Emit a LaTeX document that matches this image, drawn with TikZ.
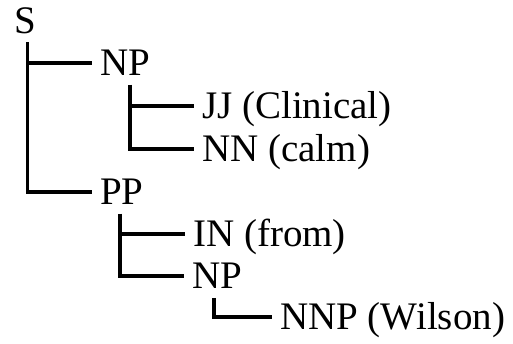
\documentclass[tikz,border=0pt]{standalone}
\usepackage{fontspec}
\setmainfont{Liberation Serif}
\usepackage{tikz}

\begin{document}
\begin{tikzpicture}
		[x=1pt,y=-1pt,
		%Styles
		tag/.style={anchor=west,inner xsep=8pt,inner ysep=9pt,
			text height=25.5pt,text depth=0pt,font=\fontsize{39}{41}\selectfont},
		branch/.style={line width=3.2pt,line join=miter}
		]
		
		\useasboundingbox (0,0) rectangle (513,344);
		
		%The labels
		\node[tag] (s)   at (6, 20.5) {S};
		\node[tag] (np1) at (92, 63)  {NP};
		\node[tag] (jj)  at (194, 106) {JJ (Clinical)};
		\node[tag] (nn)  at (194, 149) {NN (calm)};
		\node[tag] (pp)  at (92, 192) {PP};
		\node[tag] (in)  at (185, 234) {IN (from)};
		\node[tag] (np2) at (184, 276) {NP};
		\node[tag] (nnp) at (272, 317) {NNP (Wilson)};
		
		%The branches
		\draw[branch] ([xshift=21.5pt]s.south west) |- (np1.west);
		\draw[branch] ([xshift=21.5pt]s.south west) |- (pp.west);
		
		\draw[branch] ([xshift=38pt]np1.south west) |- (jj.west);
		\draw[branch] ([xshift=38pt]np1.south west) |- (nn.west);
		
		\draw[branch] ([xshift=28pt]pp.south west) |- (in.west);
		\draw[branch] ([xshift=28pt]pp.south west) |- (np2.west);
		
		\draw[branch] ([xshift=30pt]np2.south west) |- (nnp.west);
	\end{tikzpicture}
\end{document}
